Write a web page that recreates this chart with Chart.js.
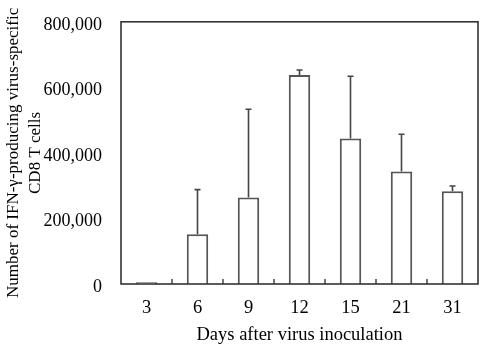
<!DOCTYPE html>
<html><head><meta charset="utf-8">
<script src="https://cdn.jsdelivr.net/npm/chart.js@4"></script>
<style>html,body{margin:0;padding:0;background:#fff}#wrap{width:482px;height:348px}</style>
</head><body><div id="wrap"><canvas id="c" width="482" height="348"></canvas></div>
<script>
const days = ['3','6','9','12','15','21','31'];
const cells = [5000, 152000, 264000, 638000, 444000, 343000, 283000];
const errorTop = [5000, 288000, 533000, 653000, 634000, 457000, 299000];
const yTicks = [0, 200000, 400000, 600000, 800000];

const FONT = "'Liberation Serif', 'Times New Roman', serif";

const framePlugin = {
  id: 'frame',
  afterDatasetsDraw(chart) {
    const {ctx, chartArea: a, scales: {x, y}} = chart;
    ctx.save();
    // error bars
    ctx.strokeStyle = '#444';
    ctx.lineWidth = 1.6;
    errorTop.forEach((e, i) => {
      if (e <= cells[i]) return;
      const px = x.getPixelForValue(i);
      const y0 = y.getPixelForValue(cells[i]);
      const y1 = y.getPixelForValue(e);
      ctx.beginPath();
      ctx.moveTo(px, y0); ctx.lineTo(px, y1);
      ctx.moveTo(px - 3, y1); ctx.lineTo(px + 3, y1);
      ctx.stroke();
    });
    // inward category ticks
    ctx.strokeStyle = '#444';
    ctx.lineWidth = 1.5;
    for (let i = 0; i < days.length - 1; i++) {
      const bx = (x.getPixelForValue(i) + x.getPixelForValue(i + 1)) / 2;
      ctx.beginPath();
      ctx.moveTo(bx, a.bottom); ctx.lineTo(bx, a.bottom - 5);
      ctx.stroke();
    }
    // frame
    ctx.strokeStyle = '#333';
    ctx.lineWidth = 1.6;
    ctx.strokeRect(a.left, a.top, a.right - a.left, a.bottom - a.top);
    ctx.restore();
  }
};

new Chart(document.getElementById('c'), {
  type: 'bar',
  data: {
    labels: days,
    datasets: [{
      data: cells,
      backgroundColor: '#fff',
      borderColor: '#555',
      borderWidth: 2,
      barPercentage: 0.42,
      categoryPercentage: 1
    }]
  },
  options: {
    responsive: false,
    animation: false,
    layout: {padding: {top: 21, right: 4, left: 0, bottom: 0}},
    plugins: {legend: {display: false}, tooltip: {enabled: false}},
    scales: {
      x: {
        grid: {display: false},
        border: {display: false},
        ticks: {color: '#000', font: {family: FONT, size: 18.5}, padding: 5, maxRotation: 0},
        title: {display: true, text: 'Days after virus inoculation', color: '#000',
                font: {family: FONT, size: 18.5}, padding: {top: 0, bottom: 2}},
        afterFit(s) { s.height = 64; }
      },
      y: {
        min: 0, max: 800000,
        grid: {display: false},
        border: {display: false},
        afterBuildTicks(s) { s.ticks = yTicks.map(v => ({value: v})); },
        ticks: {color: '#000', font: {family: FONT, size: 18}, padding: 11, labelOffset: 3,
                callback: v => v.toLocaleString('en-US')},
        title: {display: true, text: ['Number of IFN-γ-producing virus-specific', 'CD8 T cells'],
                color: '#000', font: {family: FONT, size: 17, lineHeight: 1.3}, padding: {top: 2, bottom: 0}},
        afterFit(s) { s.width = 121; }
      }
    }
  },
  plugins: [framePlugin]
});
</script>
</body></html>
